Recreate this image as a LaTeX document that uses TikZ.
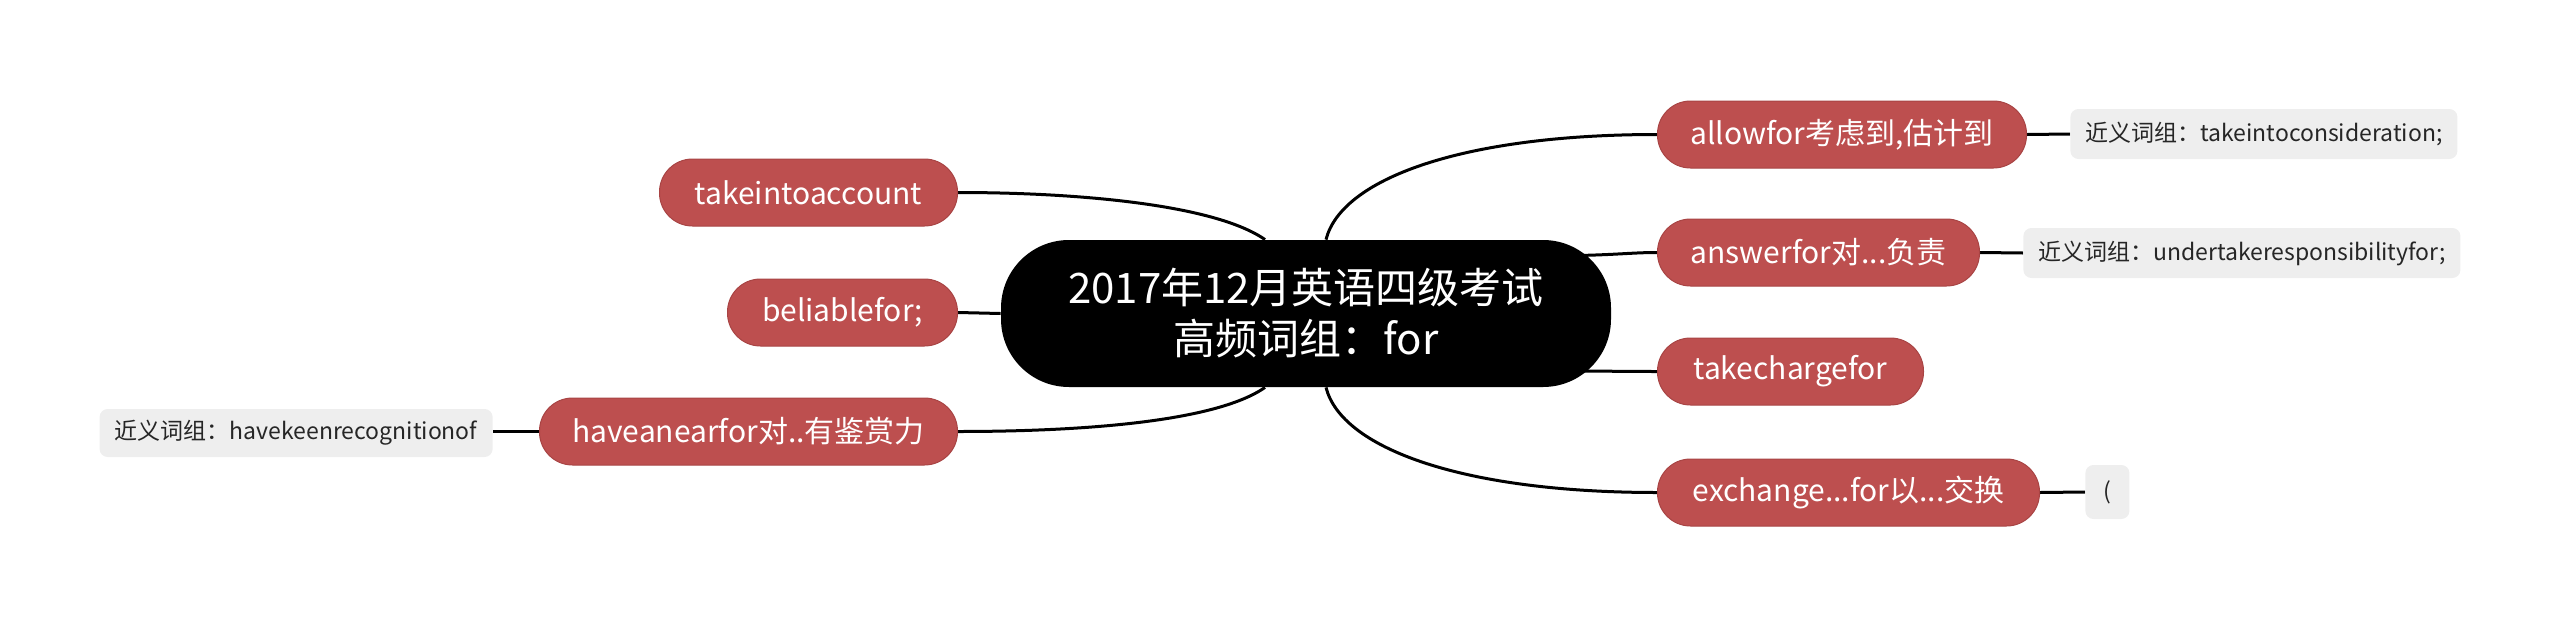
\documentclass[tikz,border=0pt]{standalone}
\usepackage{fontspec}
\setmainfont{Noto Sans CJK SC}
\definecolor{redfill}{RGB}{189,79,79}
\definecolor{redline}{RGB}{168,68,68}
\definecolor{grayfill}{RGB}{238,238,238}
\pgfdeclarelayer{bg}
\pgfsetlayers{bg,main}
\begin{document}
\begin{tikzpicture}[x=0.5pt,y=-0.5pt,
  mainbox/.style={fill=black, text=white, rounded corners=34pt, minimum width=305pt, minimum height=73.5pt, align=center, font=\fontsize{21}{25.5}\selectfont, inner sep=0pt},
  redbox/.style={fill=redfill, draw=redline, line width=0.5pt, text=white, rounded corners=16.5pt, minimum height=33.5pt, inner sep=0pt, font=\fontsize{15}{18}\selectfont},
  graybox/.style={fill=grayfill, text=black!85, rounded corners=4pt, minimum height=25pt, inner sep=0pt, font=\fontsize{11.5}{14}\selectfont},
  link/.style={draw=black, line width=1.5pt}]
\useasboundingbox (0,0) rectangle (2560,627);
\node[mainbox] (c) at (1306,313.5) {2017年12月英语四级考试\\高频词组：for};
\node[redbox, minimum width=184.5pt, anchor=west] (r1) at (1657,134.5) {allowfor考虑到,估计到};
\node[redbox, minimum width=161pt, anchor=west] (r2) at (1657,252.5) {answerfor对...负责};
\node[redbox, minimum width=133pt, anchor=west] (r3) at (1657,371.5) {takechargefor};
\node[redbox, minimum width=191pt, anchor=west] (r4) at (1657,492.5) {exchange...for以...交换};
\node[graybox, minimum width=193.5pt, anchor=west] (g1) at (2070,134) {近义词组：takeintoconsideration;};
\node[graybox, minimum width=218.5pt, anchor=west] (g2) at (2023,253) {近义词组：undertakeresponsibilityfor;};
\node[graybox, minimum width=22pt, minimum height=27pt, anchor=west] (g4) at (2085,492) {(};
\node[redbox, minimum width=149pt, anchor=east] (l1) at (958,192.5) {takeintoaccount};
\node[redbox, minimum width=115pt, anchor=east] (l2) at (958,312.5) {beliablefor;};
\node[redbox, minimum width=209pt, anchor=east] (l3) at (958,431.5) {haveanearfor对..有鉴赏力};
\node[graybox, minimum width=196.5pt, minimum height=24pt, anchor=east] (g3) at (493,433) {近义词组：havekeenrecognitionof};
\begin{pgfonlayer}{bg}
\draw[link] ([xshift=10pt]c.north) .. controls +(15,-60) and +(-197,0) .. (r1.west);
\draw[link] ([xshift=-40pt,yshift=28.75pt]c.east) .. controls +(80,0) and +(-30,0) .. (r2.west);
\draw[link] ([xshift=-40pt,yshift=-28.75pt]c.east) .. controls +(80,0) and +(-30,0) .. (r3.west);
\draw[link] ([xshift=10pt]c.south) .. controls +(15,60) and +(-197,0) .. (r4.west);
\draw[link] ([xshift=-20.5pt]c.north) .. controls +(-50,-35) and +(120,0) .. (l1.east);
\draw[link] (c.west) -- (l2.east);
\draw[link] ([xshift=-20.5pt]c.south) .. controls +(-50,35) and +(120,0) .. (l3.east);
\draw[link] (r1.east) -- (g1.west);
\draw[link] (r2.east) -- (g2.west);
\draw[link] (r4.east) -- (g4.west);
\draw[link] (l3.west) -- (g3.east |- l3.west);
\end{pgfonlayer}
\end{tikzpicture}
\end{document}
